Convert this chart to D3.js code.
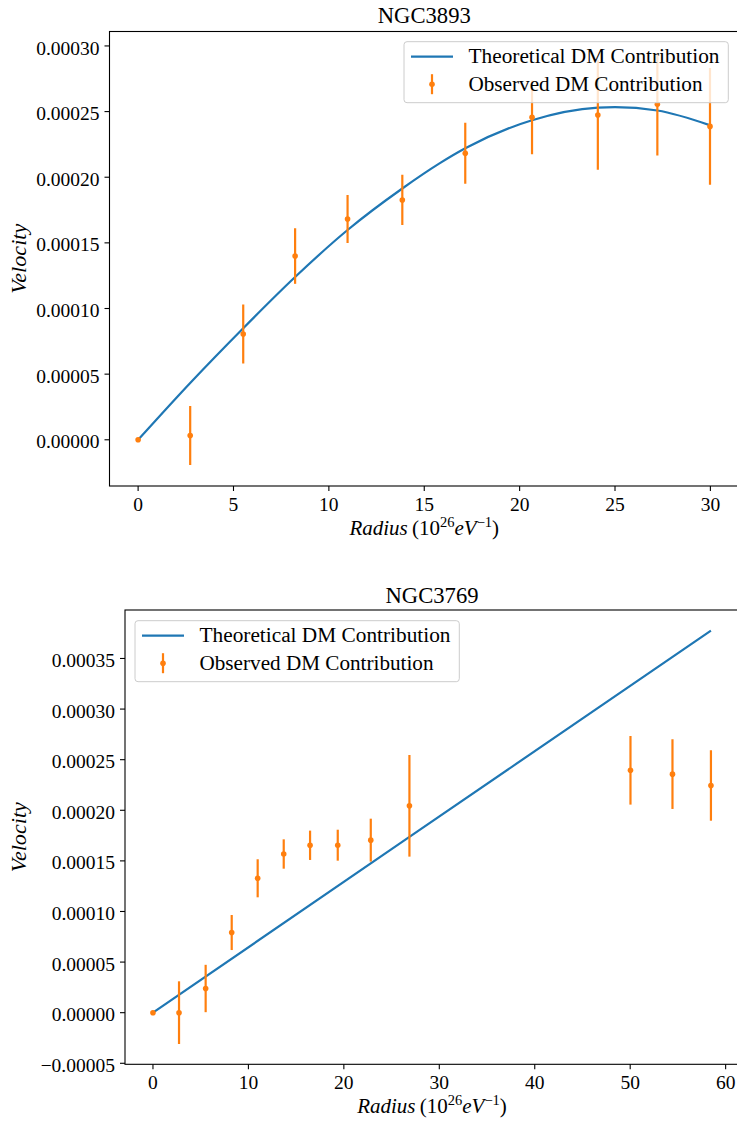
<!DOCTYPE html>
<html>
<head>
<meta charset="utf-8">
<script src="https://cdn.jsdelivr.net/npm/d3@7"></script>
<style>
  html, body { margin: 0; padding: 0; background: #fff; }
  svg { display: block; overflow: hidden; }
  text { font-family: "Liberation Serif", "Times New Roman", serif; fill: #000; }
</style>
</head>
<body>
<svg id="chart" width="737" height="1122"></svg>
<script>
// ---------------- DATA ----------------
// Panel 1: NGC3893
const ngc3893Title = "NGC3893";
const ngc3893Radius = [0, 2.73, 5.51, 8.23, 10.98, 13.85, 17.15, 20.65, 24.1, 27.22, 29.98];
const ngc3893Observed = [0, 3.2e-6, 8.06e-5, 1.40e-4, 1.682e-4, 1.827e-4, 2.182e-4, 2.456e-4, 2.474e-4, 2.556e-4, 2.387e-4];
const ngc3893Error = [0, 2.245e-5, 2.245e-5, 2.12e-5, 1.826e-5, 1.918e-5, 2.32e-5, 2.816e-5, 4.17e-5, 3.9e-5, 4.45e-5];
const ngc3893TheoryRadius = [0, 2.73, 5.51, 8.23, 10.98, 13.85, 15.8, 17.15, 20.65, 24.1, 25, 27.22, 30];
const ngc3893Theory = [0, 4.33e-5, 8.5e-5, 1.24e-4, 1.598e-4, 1.914e-4, 2.105e-4, 2.22e-4, 2.434e-4, 2.53e-4, 2.534e-4, 2.508e-4, 2.395e-4];
const ngc3893XTicks = [0, 5, 10, 15, 20, 25, 30];
const ngc3893XTickLabels = ["0", "5", "10", "15", "20", "25", "30"];
const ngc3893YTicks = [0, 0.00005, 0.0001, 0.00015, 0.0002, 0.00025, 0.0003];
const ngc3893YTickLabels = ["0.00000", "0.00005", "0.00010", "0.00015", "0.00020", "0.00025", "0.00030"];

// Panel 2: NGC3769
const ngc3769Title = "NGC3769";
const ngc3769Radius = [0, 2.73, 5.52, 8.25, 10.97, 13.7, 16.46, 19.36, 22.82, 26.87, 50.03, 54.43, 58.46];
const ngc3769Observed = [0, 0, 2.39e-5, 7.92e-5, 1.328e-4, 1.568e-4, 1.654e-4, 1.655e-4, 1.705e-4, 2.044e-4, 2.395e-4, 2.357e-4, 2.245e-4];
const ngc3769Error = [0, 3.1e-5, 2.34e-5, 1.73e-5, 1.88e-5, 1.45e-5, 1.45e-5, 1.53e-5, 2.12e-5, 5.02e-5, 3.39e-5, 3.44e-5, 3.48e-5];
const ngc3769TheoryRadius = [0, 26.87, 58.46];
const ngc3769Theory = [0, 1.737e-4, 3.775e-4];
const ngc3769XTicks = [0, 10, 20, 30, 40, 50, 60];
const ngc3769XTickLabels = ["0", "10", "20", "30", "40", "50", "60"];
const ngc3769YTicks = [-0.00005, 0, 0.00005, 0.0001, 0.00015, 0.0002, 0.00025, 0.0003, 0.00035];
const ngc3769YTickLabels = ["\u22120.00005", "0.00000", "0.00005", "0.00010", "0.00015", "0.00020", "0.00025", "0.00030", "0.00035"];

const legendLabels = ["Theoretical DM Contribution", "Observed DM Contribution"];
const yLabel = "Velocity";

// ---------------- STYLE / LAYOUT ----------------
const BLUE = "#1f77b4", ORANGE = "#ff7f0e";
const svg = d3.select("#chart");

function drawPanel(cfg) {
  const g = svg.append("g");
  const x = d3.scaleLinear().domain(cfg.xDomain).range([cfg.left, cfg.right]);
  const y = d3.scaleLinear().domain(cfg.yDomain).range([cfg.bottom, cfg.top]);

  const clipId = "clip" + cfg.id;
  svg.append("clipPath").attr("id", clipId).append("rect")
    .attr("x", cfg.left).attr("y", cfg.top)
    .attr("width", cfg.right - cfg.left).attr("height", cfg.bottom - cfg.top);
  const plot = g.append("g").attr("clip-path", `url(#${clipId})`);

  // theoretical line
  const pts = cfg.theoryR.map((r, i) => [r, cfg.theory[i]]);
  const line = d3.line().x(d => x(d[0])).y(d => y(d[1])).curve(d3.curveMonotoneX);
  plot.append("path").attr("d", line(pts)).attr("fill", "none")
    .attr("stroke", BLUE).attr("stroke-width", 2.2);

  // observed error bars + markers
  const obs = cfg.radius.map((r, i) => ({ r, v: cfg.observed[i], e: cfg.error[i] }));
  plot.selectAll(".eb").data(obs.filter(d => d.e > 0)).enter().append("line")
    .attr("x1", d => x(d.r)).attr("x2", d => x(d.r))
    .attr("y1", d => y(d.v - d.e)).attr("y2", d => y(d.v + d.e))
    .attr("stroke", ORANGE).attr("stroke-width", 2.2);
  plot.selectAll(".mk").data(obs).enter().append("circle")
    .attr("cx", d => x(d.r)).attr("cy", d => y(d.v)).attr("r", 2.8)
    .attr("fill", ORANGE);

  // spines
  g.append("rect").attr("x", cfg.left).attr("y", cfg.top)
    .attr("width", cfg.right - cfg.left).attr("height", cfg.bottom - cfg.top)
    .attr("fill", "none").attr("stroke", "#000").attr("stroke-width", 1.1);

  // x axis ticks
  const xa = g.append("g");
  cfg.xTicks.forEach((t, i) => {
    const px = x(t);
    xa.append("line").attr("x1", px).attr("x2", px).attr("y1", cfg.bottom).attr("y2", cfg.bottom + 5)
      .attr("stroke", "#000").attr("stroke-width", 1.1);
    xa.append("text").attr("x", px).attr("y", cfg.bottom + 25).attr("text-anchor", "middle")
      .attr("font-size", 19.5).text(cfg.xTickLabels[i]);
  });
  // y axis ticks
  const ya = g.append("g");
  cfg.yTicks.forEach((t, i) => {
    const py = y(t);
    ya.append("line").attr("x1", cfg.left - 5).attr("x2", cfg.left).attr("y1", py).attr("y2", py)
      .attr("stroke", "#000").attr("stroke-width", 1.1);
    ya.append("text").attr("x", cfg.left - 10).attr("y", py + 8.6).attr("text-anchor", "end")
      .attr("font-size", 19.5).text(cfg.yTickLabels[i]);
  });

  // title
  g.append("text").attr("x", (cfg.left + cfg.right) / 2).attr("y", cfg.titleY)
    .attr("text-anchor", "middle").attr("font-size", 23)
    .attr("textLength", 93).attr("lengthAdjust", "spacingAndGlyphs").text(cfg.title);

  // y label
  g.append("text")
    .attr("transform", `translate(26,${(cfg.top + cfg.bottom) / 2}) rotate(-90)`)
    .attr("text-anchor", "middle").attr("font-size", 20).attr("font-style", "italic")
    .attr("textLength", 70).attr("lengthAdjust", "spacingAndGlyphs").text(yLabel);

  // x label
  const xl = g.append("text").attr("x", (cfg.left + cfg.right) / 2).attr("y", cfg.bottom + 49)
    .attr("text-anchor", "middle").attr("font-size", 21);
  xl.append("tspan").attr("font-style", "italic").text("Radius");
  xl.append("tspan").text("\u2009(10");
  xl.append("tspan").attr("font-size", 14.5).attr("dy", -8.5).text("26");
  xl.append("tspan").attr("font-style", "italic").attr("dy", 8.5).text("eV");
  xl.append("tspan").attr("font-size", 14.5).attr("dy", -8.5).text("\u22121");
  xl.append("tspan").attr("dy", 8.5).text(")");

  // legend
  const L = cfg.legend;
  const lg = g.append("g");
  lg.append("rect").attr("x", L.x).attr("y", L.y).attr("width", L.w).attr("height", L.h)
    .attr("rx", 3).attr("ry", 3).attr("fill", "#fff").attr("fill-opacity", 0.8)
    .attr("stroke", "#cccccc").attr("stroke-width", 1);
  lg.append("line").attr("x1", L.x + 7).attr("x2", L.x + 49).attr("y1", L.y + 15).attr("y2", L.y + 15)
    .attr("stroke", BLUE).attr("stroke-width", 2.2);
  lg.append("line").attr("x1", L.x + 28).attr("x2", L.x + 28).attr("y1", L.y + 32.5).attr("y2", L.y + 52.5)
    .attr("stroke", ORANGE).attr("stroke-width", 2.2);
  lg.append("circle").attr("cx", L.x + 28).attr("cy", L.y + 42.5).attr("r", 2.8).attr("fill", ORANGE);
  lg.append("text").attr("x", L.x + 64.5).attr("y", L.y + 21.6).attr("font-size", 20)
    .attr("textLength", 251).attr("lengthAdjust", "spacingAndGlyphs").text(legendLabels[0]);
  lg.append("text").attr("x", L.x + 64.5).attr("y", L.y + 48.8).attr("font-size", 20)
    .attr("textLength", 234).attr("lengthAdjust", "spacingAndGlyphs").text(legendLabels[1]);
}

drawPanel({
  id: 1, title: ngc3893Title, titleY: 23.3,
  left: 109.5, right: 739, top: 31.5, bottom: 486,
  xDomain: [-1.5, 31.5], yDomain: [-3.52e-5, 3.11e-4],
  radius: ngc3893Radius, observed: ngc3893Observed, error: ngc3893Error,
  theoryR: ngc3893TheoryRadius, theory: ngc3893Theory,
  xTicks: ngc3893XTicks, xTickLabels: ngc3893XTickLabels,
  yTicks: ngc3893YTicks, yTickLabels: ngc3893YTickLabels,
  legend: { x: 404, y: 41.7, w: 324.3, h: 61 }
});

drawPanel({
  id: 2, title: ngc3769Title, titleY: 602.7,
  left: 125, right: 739, top: 610, bottom: 1064.3,
  xDomain: [-2.93, 61.4], yDomain: [-5.1e-5, 3.979e-4],
  radius: ngc3769Radius, observed: ngc3769Observed, error: ngc3769Error,
  theoryR: ngc3769TheoryRadius, theory: ngc3769Theory,
  xTicks: ngc3769XTicks, xTickLabels: ngc3769XTickLabels,
  yTicks: ngc3769YTicks, yTickLabels: ngc3769YTickLabels,
  legend: { x: 135, y: 620.7, w: 324.3, h: 61 }
});
</script>
</body>
</html>
